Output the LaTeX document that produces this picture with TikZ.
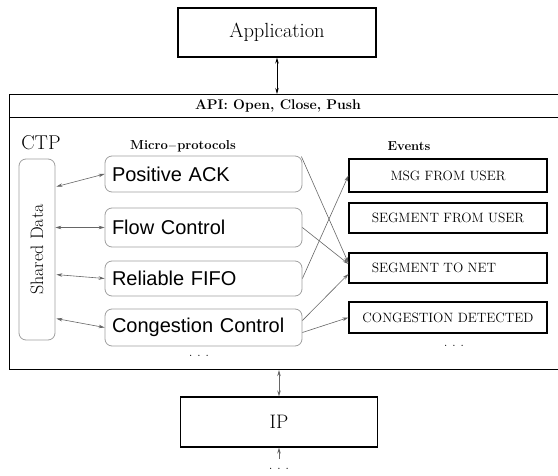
\documentclass[tikz,border=0pt]{standalone}
\usepackage{fontspec}
\setsansfont{Liberation Sans}
\usetikzlibrary{calc,arrows.meta}
\begin{document}
\begin{tikzpicture}[x=1pt,y=-1pt,
  sqbox/.style={draw, line width=1.1pt, inner sep=0pt},
  mp/.style={draw=gray!75, rounded corners=7pt, line width=0.8pt, minimum height=36pt,
    inner xsep=7pt, inner ysep=0pt, text width=183pt, align=left,
    font=\sffamily\fontsize{20}{22}\selectfont},
  ev/.style={draw, line width=1.1pt, minimum width=198pt, minimum height=31pt, inner sep=0pt,
    font=\fontsize{13.5}{15}\selectfont},
  garr/.style={draw=gray!80!black, line width=0.6pt, {Stealth[length=6pt,width=3.5pt]}-{Stealth[length=6pt,width=3.5pt]}},
  sarr/.style={draw=gray!80!black, line width=0.6pt, -{Stealth[length=6pt,width=3.5pt]}},
  head/.style={font=\bfseries\fontsize{13}{15}\selectfont},
  dotsty/.style={font=\fontsize{15}{17}\selectfont, inner sep=0pt}
]
\useasboundingbox (0,0) rectangle (558,476);
\clip (0,0) rectangle (558,476);
% top and bottom layers
\node[sqbox, minimum width=198pt, minimum height=49pt, font=\fontsize{20.5}{22}\selectfont] (app) at (277,32.5) {Application};
\node[sqbox, minimum width=197pt, minimum height=50pt, font=\fontsize{19.5}{21}\selectfont] (ip) at (279,422) {IP};
% CTP container and API bar
\node[sqbox, anchor=north west, minimum width=561pt, minimum height=275pt] (ctp) at (9,94) {};
\node[sqbox, anchor=north west, minimum width=561pt, minimum height=23pt] (api) at (9,94) {};
\node[font=\bfseries\fontsize{14}{16}\selectfont] (apitext) at (278,106) {API: Open, Close, Push};
\node[font=\fontsize{20}{22}\selectfont] (ctplabel) at (41,143) {CTP};
\node[head] (mphead) at (183,146) {Micro$-$protocols};
\node[head] (evhead) at (409,146) {Events};
% shared data
\node[draw=gray!75, rounded corners=7pt, line width=0.8pt, minimum width=36pt, minimum height=181pt, inner sep=0pt] (sd) at (37,249.5) {};
\node[rotate=90, font=\fontsize{18}{20}\selectfont] (sdtext) at (37,249.5) {Shared Data};
% micro-protocols
\node[mp] (pack) at (203.5,174) {Positive ACK};
\node[mp, minimum height=39pt] (flow) at (203.5,227.5) {Flow Control};
\node[mp, minimum height=35pt] (fifo) at (203.5,278.5) {Reliable FIFO};
\node[mp, minimum height=37pt] (cong) at (203.5,327.5) {Congestion Control};
\node[dotsty] (mpdots) at (199,356) {.\ .\ .};
% events
\node[ev, minimum height=33pt] (msg) at (448,175.5) {MSG FROM USER};
\node[ev, minimum height=30pt] (sfu) at (448,218) {SEGMENT FROM USER};
\node[ev, minimum height=30pt] (stn) at (448,268) {};
\node[font=\fontsize{13.5}{15}\selectfont] (stntext) at (434,268) {SEGMENT TO NET};
\node[ev] (cd) at (448,317.5) {CONGESTION DETECTED};
\node[dotsty] (evdots) at (454,346) {.\ .\ .};
\node[dotsty] (ipdots) at (279,469) {.\ .\ .};
\coordinate (below) at (279,459);
% vertical connectors
\draw[line width=0.7pt, {Stealth[length=6pt,width=3.5pt]}-{Stealth[length=6pt,width=3.5pt]}] (app.south) -- (app.south |- api.north);
\draw[garr] (ip.north |- ctp.south) -- (ip.north);
\draw[sarr] (below) -- (ip.south);
% shared data connectors
\draw[garr] ($(sd.north east)+(1,28)$) -- (pack.west);
\draw[garr] (sd.east |- flow.west) -- (flow.west);
\draw[garr] ($(sd.north east)+(1,116)$) -- (fifo.west);
\draw[garr] ($(sd.north east)+(1,160)$) -- (cong.west);
% micro-protocols to events
\draw[sarr] ($(pack.north east)+(-1,1)$) -- ($(stn.west)+(0,-5)$);
\draw[sarr] (flow.east) -- ($(stn.west)+(0,-4)$);
\draw[sarr] (fifo.east) -- (msg.west);
\draw[sarr] ($(cong.east)+(0,-7)$) -- ($(stn.west)+(0,6)$);
\draw[sarr] ($(cong.east)+(0,5)$) -- (cd.west);
\end{tikzpicture}
\end{document}
